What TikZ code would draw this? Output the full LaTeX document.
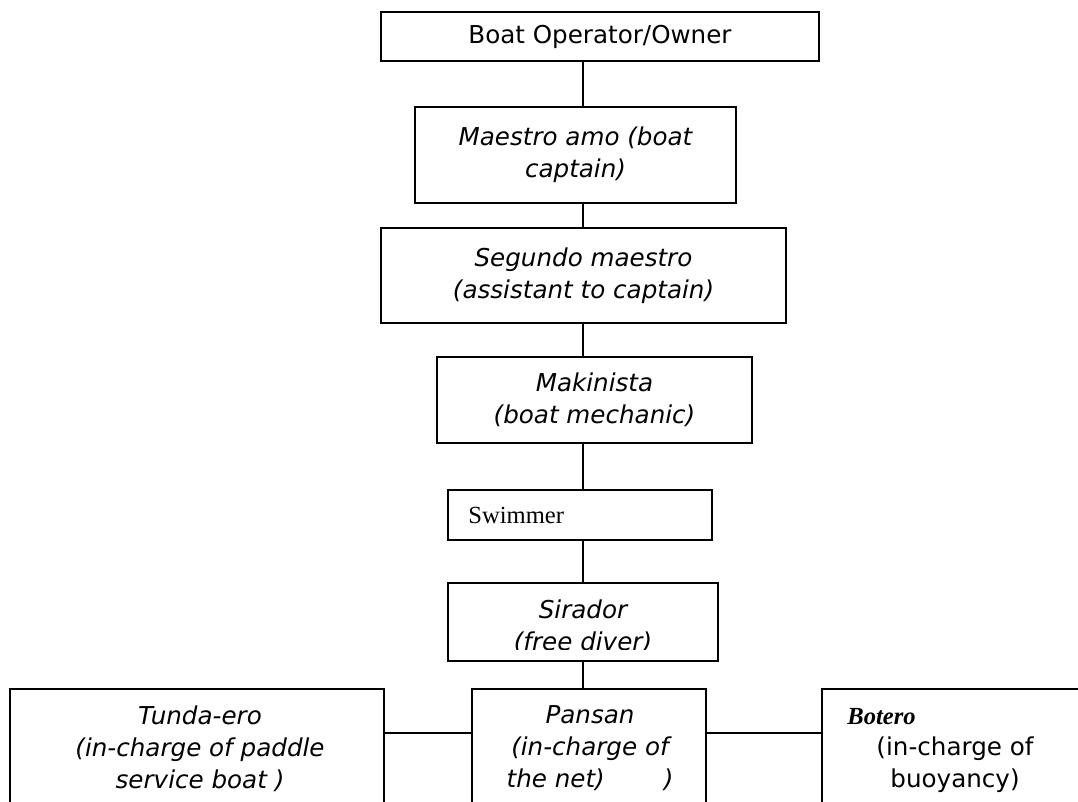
\documentclass[tikz,border=0pt]{standalone}
\usepackage{fontspec}
\setmainfont{DejaVu Sans}
\newfontfamily\timesfont{Liberation Serif}
\usetikzlibrary{positioning}
\newcommand\rolefont{\fontsize{14}{18.2}\selectfont}
\tikzset{
	rolebox/.style={rectangle, draw=black, line width=1pt, align=center, text centered, font=\rolefont\itshape},
	roletext/.style={align=center, inner sep=0pt, font=\rolefont\itshape},
	link/.style={line width=1pt},
}

\begin{document}
\begin{tikzpicture}[x=0.02cm, y=-0.02cm]
	\clip (0,0) rectangle (1078,801);
	\coordinate (spine) at (583,0);
	\coordinate (rung) at (0,733);
	% chain of command
	\node[rolebox, font=\rolefont, minimum width=8.76cm, minimum height=0.98cm] (owner) at (600,36.5) {Boat Operator/Owner};
	\node[rolebox, minimum width=6.42cm, minimum height=1.92cm] (maestro) at (575.5,155) {Maestro amo (boat\\captain)};
	\node[rolebox, minimum width=8.10cm, minimum height=1.90cm] (segundo) at (583.5,275.5) {Segundo maestro\\(assistant to captain)};
	\node[rolebox, minimum width=6.30cm, minimum height=1.72cm] (makinista) at (594.5,400) {Makinista\\(boat mechanic)};
	\node[rolebox, minimum width=5.28cm, minimum height=1.0cm] (swimmer) at (580,515) {};
	\node[anchor=base west, inner sep=0pt, font=\timesfont\fontsize{14}{18.2}\selectfont] (swimmerText) at (468,523) {Swimmer};
	\node[rolebox, minimum width=5.40cm, minimum height=1.56cm] (sirador) at (583,622) {};
	\begin{scope}
		\clip (448,583) rectangle (718,649);
		\node[roletext] (siradorText) at (583,627) {Sirador\\(free diver)};
	\end{scope}
	% crew row
	\node[rolebox, minimum width=7.48cm, minimum height=2.82cm] (tunda) at (197,759.5) {};
	\node[rolebox, minimum width=4.68cm, minimum height=2.82cm] (pansan) at (589,759.5) {};
	\node[rolebox, minimum width=5.76cm, minimum height=2.82cm] (botero) at (966,759.5) {};
	\node[roletext, anchor=north] (tundaText) at (200,705) {Tunda-ero\\(in-charge of paddle\\service boat )};
	\node[roletext, anchor=north] (pansanText) at (590,705) {Pansan\\(in-charge of\\the net)\hspace{2.4em})};
	\node[anchor=base west, inner sep=0pt, font=\timesfont\fontsize{14}{18.2}\selectfont\bfseries\itshape] (boteroName) at (847,724) {Botero};
	\node[roletext, anchor=north, font=\rolefont] (boteroText) at (955,736) {(in-charge of\\buoyancy)};
	\foreach \a/\b in {owner/maestro, maestro/segundo, segundo/makinista, makinista/swimmer, swimmer/sirador, sirador/pansan}
		\draw[link] (\a.south -| spine) -- (\b.north -| spine);
	\draw[link] (tunda.east |- rung) -- (pansan.west |- rung);
	\draw[link] (pansan.east |- rung) -- (botero.west |- rung);
\end{tikzpicture}
\end{document}
